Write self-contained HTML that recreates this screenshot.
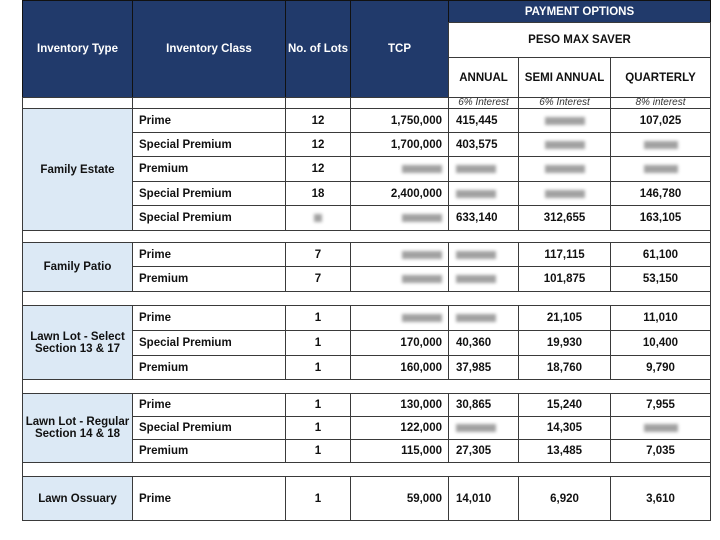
<!DOCTYPE html>
<html><head><meta charset="utf-8">
<style>
body{margin:0;width:720px;height:540px;background:#fff;position:relative;overflow:hidden;font-family:"Liberation Sans",Arial,sans-serif;}
.c{position:absolute;box-sizing:border-box;border:1px solid #3a3a3a;font-size:11.5px;font-weight:bold;color:#111;display:flex;align-items:center;}
.h{background:#213a6b;color:#fff;justify-content:center;text-align:center;border-color:#111;}
.b{display:inline-block;height:8px;background:#8a8a8a;filter:blur(1.6px);opacity:.8}
.it{font-style:italic;font-weight:normal;font-size:10px;color:#333;justify-content:center;align-items:flex-end;line-height:10px;padding-bottom:0;}
</style></head><body>
<script>
const X=[22,132,285,350,448,518,610,710];
const groupTypes=["Family Estate","Family Patio","Lawn Lot - Select<br>Section 13 & 17","Lawn Lot - Regular<br>Section 14 & 18","Lawn Ossuary"];
const groupRows=[
 [[108,132],[132,156],[156,181],[181,205],[205,230]],
 [[242,266],[266,291]],
 [[305,330],[330,355],[355,379]],
 [[393,416],[416,439],[439,462]],
 [[476,520]]];
const classes=[["Prime","Special Premium","Premium","Special Premium","Special Premium"],["Prime","Premium"],["Prime","Special Premium","Premium"],["Prime","Special Premium","Premium"],["Prime"]];
const lots=[["12","12","12","18",null],["7","7"],["1","1","1"],["1","1","1"],["1"]];
const tcp=[["1,750,000","1,700,000",null,"2,400,000",null],[null,null],[null,"170,000","160,000"],["130,000","122,000","115,000"],["59,000"]];
const annual=[["415,445","403,575",null,null,"633,140"],[null,null],[null,"40,360","37,985"],["30,865",null,"27,305"],["14,010"]];
const semi=[[null,null,null,null,"312,655"],["117,115","101,875"],["21,105","19,930","18,760"],["15,240","14,305","13,485"],["6,920"]];
const quarterly=[["107,025",null,null,"146,780","163,105"],["61,100","53,150"],["11,010","10,400","9,790"],["7,955",null,"7,035"],["3,610"]];
const gaps=[[230,242],[291,305],[379,393],[462,476]];

function cell(x1,x2,y1,y2,html,cls,align,pad){
  const d=document.createElement('div');
  d.className='c '+(cls||'');
  d.style.left=x1+'px';d.style.top=y1+'px';
  d.style.width=(x2-x1+1)+'px';d.style.height=(y2-y1+1)+'px';
  if(align)d.style.justifyContent=align;
  if(pad)d.style.padding=pad;
  d.innerHTML=html;
  document.body.appendChild(d);
  return d;
}
function val(v,w){return v===null?'<span class="b" style="width:'+w+'px"></span>':v;}
let e;
e=cell(X[0],X[1],0,97,'Inventory Type','h');

e=cell(X[1],X[2],0,97,'Inventory Class','h');

e=cell(X[2],X[3],0,97,'No. of Lots','h');

e=cell(X[3],X[4],0,97,'TCP','h');

e=cell(X[4],X[7],0,22,'PAYMENT OPTIONS','h');

e=cell(X[4],X[7],22,57,'PESO MAX SAVER','','center');

const sub=["ANNUAL","SEMI ANNUAL","QUARTERLY"],intr=["6% Interest","6% Interest","8% interest"];
for(let i=0;i<3;i++){
  e=cell(X[4+i],X[5+i],57,97,sub[i],'','center');
  
  
}
for(let i=0;i<7;i++){
  e=cell(X[i],X[i+1],97,108,i>=4?intr[i-4]:'',i>=4?'it':'');
  
  
}
gaps.forEach(g=>{
  e=cell(X[0],X[7],g[0],g[1],'');
  
  
});
groupRows.forEach((rows,gi)=>{
  const y1=rows[0][0],y2=rows[rows.length-1][1];
  e=cell(X[0],X[1],y1,y2,groupTypes[gi],'','center');
  e.style.background='#dce9f5';e.style.textAlign='center';
  
  
  rows.forEach((r,ri)=>{
    e=cell(X[1],X[2],r[0],r[1],classes[gi][ri],'','flex-start','0 0 0 6px');
    
    
    e=cell(X[2],X[3],r[0],r[1],val(lots[gi][ri],8),'','center');
    
    
    e=cell(X[3],X[4],r[0],r[1],val(tcp[gi][ri],40),'','flex-end','0 6px 0 0');
    
    
    e=cell(X[4],X[5],r[0],r[1],val(annual[gi][ri],40),'','flex-start','0 0 0 7px');
    
    
    e=cell(X[5],X[6],r[0],r[1],val(semi[gi][ri],40),'','center');
    
    
    e=cell(X[6],X[7],r[0],r[1],val(quarterly[gi][ri],34),'','center');
    
    
  });
});
</script>
</body></html>
